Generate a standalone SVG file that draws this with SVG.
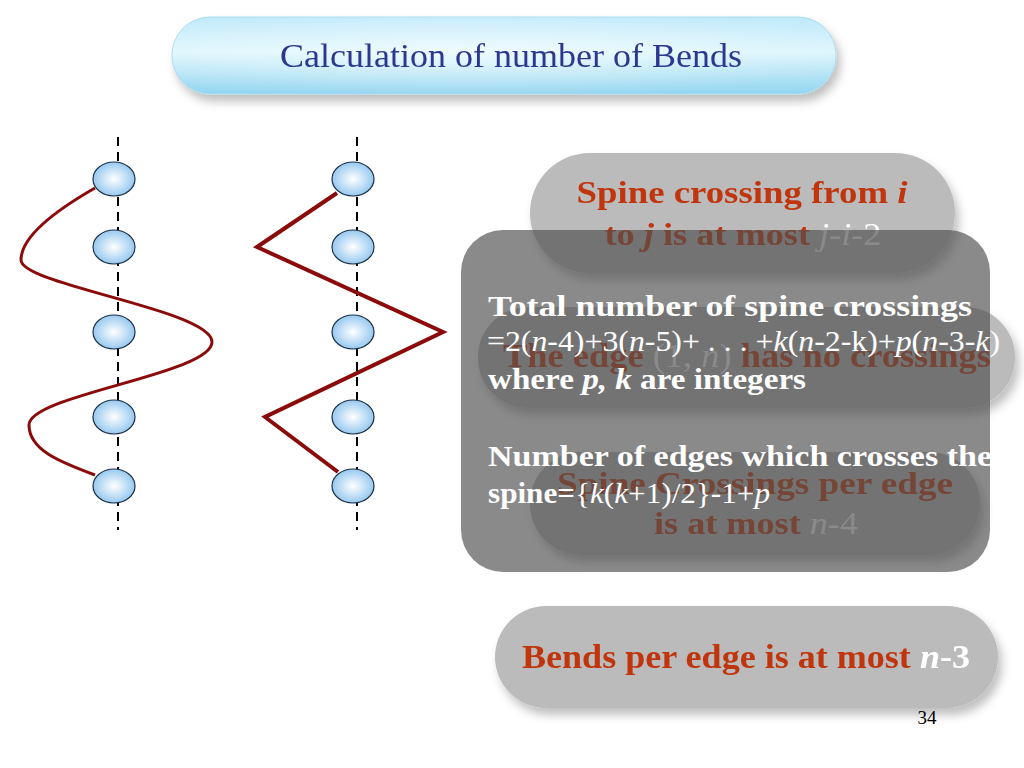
<svg xmlns="http://www.w3.org/2000/svg" width="1024" height="768" viewBox="0 0 1024 768">
<defs>
<style>
.spine{stroke:#000;stroke-width:2;stroke-dasharray:9 6;fill:none}
.node{fill:url(#ng);stroke:#1b2f45;stroke-width:1.2}
.edge{fill:none;stroke:#8b0a0a;stroke-linejoin:miter}
.box{fill:#bbbbbb}
.rt{font-family:"Liberation Serif",serif;font-weight:bold;fill:#c0360c;text-anchor:middle}
.wt{font-family:"Liberation Serif",serif;font-weight:bold;fill:#ffffff}
.it{font-style:italic}
.w{fill:#ffffff}
.nb{font-weight:normal}
</style>
<radialGradient id="ng" cx="0.5" cy="0.5" r="0.55">
<stop offset="0" stop-color="#ffffff"/>
<stop offset="1" stop-color="#8cc3ee"/>
</radialGradient>
<linearGradient id="tg" x1="0" y1="0" x2="0" y2="1">
<stop offset="0" stop-color="#bfe9fa"/>
<stop offset="0.45" stop-color="#def6fd"/>
<stop offset="1" stop-color="#93d5f0"/>
</linearGradient>
<radialGradient id="tg2" cx="0.45" cy="0.45" r="0.6">
<stop offset="0" stop-color="#ffffff" stop-opacity="0.5"/>
<stop offset="1" stop-color="#ffffff" stop-opacity="0"/>
</radialGradient>
<filter id="sh" x="-10%" y="-20%" width="125%" height="150%">
<feDropShadow dx="4" dy="7" stdDeviation="5" flood-color="#000" flood-opacity="0.25"/>
</filter>
</defs>
<rect width="1024" height="768" fill="#ffffff"/>

<g id="title" filter="url(#sh)">
<rect x="172" y="17" width="664" height="77" rx="38" fill="url(#tg)" stroke="#a9dcee" stroke-width="1"/>
<rect x="172" y="17" width="664" height="77" rx="38" fill="url(#tg2)"/>
<text x="511" y="67" font-family="'Liberation Serif',serif" font-size="33" fill="#2b3990" text-anchor="middle" textLength="462" lengthAdjust="spacingAndGlyphs">Calculation of number of Bends</text>
</g>

<g id="spines">
<line class="spine" x1="118" y1="137" x2="118" y2="530"/>
<line class="spine" x1="357" y1="137" x2="357" y2="530"/>
</g>

<g id="connectors">
<path class="edge" stroke-width="3" d="M95,188 C60,208 21,235 21,260 C21,285 212,310 212,342 C212,374 29,395 29,425 C29,450 60,462 95,475"/>
<polyline class="edge" stroke-width="4" points="337,193 257,247 443,332 265,417 338,472"/>
</g>

<g id="nodes">
<g id="L1"><ellipse class="node" cx="114" cy="179" rx="21" ry="17"/></g>
<g id="L2"><ellipse class="node" cx="114" cy="247" rx="21" ry="17"/></g>
<g id="L3"><ellipse class="node" cx="114" cy="332" rx="21" ry="17"/></g>
<g id="L4"><ellipse class="node" cx="114" cy="417" rx="21" ry="17"/></g>
<g id="L5"><ellipse class="node" cx="114" cy="486" rx="21" ry="17"/></g>
<g id="R1"><ellipse class="node" cx="353" cy="179" rx="21" ry="17"/></g>
<g id="R2"><ellipse class="node" cx="353" cy="247" rx="21" ry="17"/></g>
<g id="R3"><ellipse class="node" cx="353" cy="332" rx="21" ry="17"/></g>
<g id="R4"><ellipse class="node" cx="353" cy="417" rx="21" ry="17"/></g>
<g id="R5"><ellipse class="node" cx="353" cy="486" rx="21" ry="17"/></g>
</g>

<g id="boxA" filter="url(#sh)">
<rect class="box" x="530" y="153" width="425" height="120" rx="60"/>
<text class="rt" x="742" y="203" font-size="32" textLength="331" lengthAdjust="spacingAndGlyphs">Spine crossing from <tspan class="it">i</tspan></text>
<text class="rt" x="743" y="245" font-size="32" textLength="277" lengthAdjust="spacingAndGlyphs">to <tspan class="it">j</tspan> is at most <tspan class="w it nb">j-i</tspan><tspan class="w nb">-2</tspan></text>
</g>

<g id="boxB" filter="url(#sh)">
<rect class="box" x="478" y="307" width="537" height="101" rx="50"/>
<text class="rt" x="747" y="367" font-size="33" textLength="488" lengthAdjust="spacingAndGlyphs">The edge <tspan class="w nb">(1, <tspan class="it">n</tspan>)</tspan> has no crossings</text>
</g>

<g id="boxC" filter="url(#sh)">
<rect class="box" x="530" y="452" width="450" height="103" rx="51"/>
<text class="rt" x="755" y="494" font-size="32" textLength="396" lengthAdjust="spacingAndGlyphs">Spine Crossings per edge</text>
<text class="rt" x="756" y="534" font-size="32" textLength="204" lengthAdjust="spacingAndGlyphs">is at most <tspan class="w nb"><tspan class="it">n</tspan>-4</tspan></text>
</g>

<g id="overlay">
<rect x="461" y="230" width="529" height="342" rx="42" fill="#4e4e4e" fill-opacity="0.66"/>
<text class="wt" x="488" y="316" font-size="30" textLength="484" lengthAdjust="spacingAndGlyphs">Total number of spine crossings</text>
<text class="wt nb" x="487" y="351" font-size="30" textLength="513" lengthAdjust="spacingAndGlyphs">=2(<tspan class="it">n</tspan>-4)+3(<tspan class="it">n</tspan>-5)+ . . . +<tspan class="it">k</tspan>(<tspan class="it">n</tspan>-2-k)+<tspan class="it">p</tspan>(<tspan class="it">n</tspan>-3-<tspan class="it">k</tspan>)</text>
<text class="wt" x="488" y="389" font-size="30" textLength="318" lengthAdjust="spacingAndGlyphs">where <tspan class="it">p, k</tspan> are integers</text>
<text class="wt" x="488" y="466" font-size="30" textLength="504" lengthAdjust="spacingAndGlyphs">Number of edges which crosses the</text>
<text class="wt" x="488" y="503" font-size="30" textLength="282" lengthAdjust="spacingAndGlyphs">spine=<tspan class="nb">{<tspan class="it">k</tspan>(<tspan class="it">k</tspan>+1)/2}-1+<tspan class="it">p</tspan></tspan></text>
</g>

<g id="boxD" filter="url(#sh)">
<rect class="box" x="495" y="606" width="503" height="102" rx="51" fill="#bfbfbf"/>
<text class="rt" x="746" y="668" font-size="33" textLength="448" lengthAdjust="spacingAndGlyphs">Bends per edge is at most <tspan class="w"><tspan class="it">n</tspan>-3</tspan></text>
</g>

<text id="page" x="927" y="724" font-family="'Liberation Serif',serif" font-size="19" fill="#000" text-anchor="middle">34</text>
</svg>
